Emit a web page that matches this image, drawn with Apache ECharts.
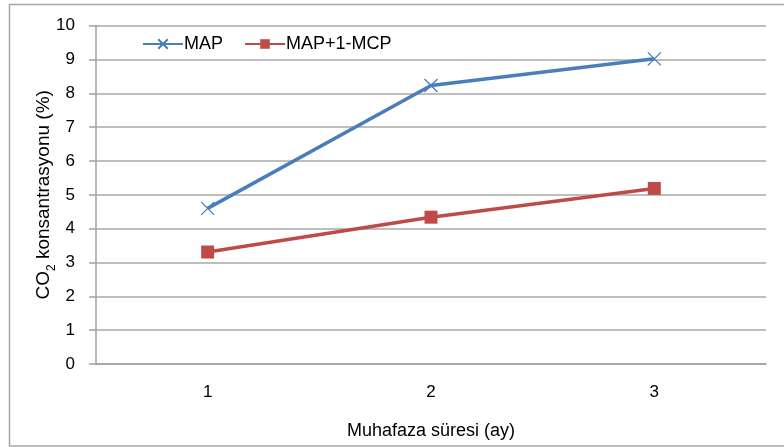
<!DOCTYPE html>
<html><head><meta charset="utf-8">
<script src="https://cdn.jsdelivr.net/npm/echarts@6/dist/echarts.min.js"></script>
<style>html,body{margin:0;padding:0;background:#fff}#c{width:784px;height:447px}</style>
</head><body><div id="c"></div>
<script>
const categories = ['1', '2', '3'];
const mapValues = [4.6, 8.23, 9.02];
const mcpValues = [3.31, 4.34, 5.19];
const seriesNames = ['MAP', 'MAP+1-MCP'];
const xAxisTitle = 'Muhafaza süresi (ay)';

const chart = echarts.init(document.getElementById('c'), null, {renderer: 'canvas'});
const font = 'Liberation Sans, Arial, sans-serif';
chart.setOption({
  animation: false,
  graphic: [{type: 'rect', shape: {x: 9.5, y: 4.5, width: 790, height: 441.5}, style: {fill: 'none', stroke: '#a6a6a6', lineWidth: 1.5}, silent: true}],
  grid: {left: 96, right: 18, top: 25.7, bottom: 83, containLabel: false, outerBoundsMode: 'none'},
  legend: {
    left: 142, top: 35, itemWidth: 40, itemHeight: 12, itemGap: 21, padding: 0,
    textStyle: {fontFamily: font, fontSize: 18, color: '#000', padding: [0, 0, 0, -4]},
    data: seriesNames
  },
  xAxis: {
    type: 'category', data: categories, boundaryGap: true,
    axisLine: {lineStyle: {color: '#a0a0a0', width: 1.5}},
    axisTick: {show: false},
    axisLabel: {fontFamily: font, fontSize: 17, color: '#000', margin: 20},
    name: xAxisTitle, nameLocation: 'middle', nameGap: 58,
    nameTextStyle: {fontFamily: font, fontSize: 18, color: '#000'}
  },
  yAxis: {
    type: 'value', min: 0, max: 10, interval: 1,
    axisLine: {show: true, lineStyle: {color: '#a0a0a0', width: 1.5}},
    axisTick: {show: true, length: 7, lineStyle: {color: '#a0a0a0', width: 1.5}},
    splitLine: {lineStyle: {color: '#a8a8a8', width: 1.5}},
    axisLabel: {fontFamily: font, fontSize: 17, color: '#000', margin: 21},
    name: '{a|CO}{s|2}{a| konsantrasyonu (%)}', nameLocation: 'middle', nameGap: 43, nameRotate: 90,
    nameMoveOverlap: false,
    nameTextStyle: {rich: {a: {fontFamily: font, fontSize: 19, color: '#000'}, s: {fontFamily: font, fontSize: 12, color: '#000', verticalAlign: 'bottom', padding: [0, 0, -5, 0]}}}
  },
  series: [
    {
      name: seriesNames[0], type: 'line', data: mapValues,
      symbol: 'path://M0,0L10,10M10,0L0,10', symbolSize: 13,
      lineStyle: {color: '#4a7ebb', width: 3.5},
      itemStyle: {color: 'rgba(0,0,0,0)', borderColor: '#4a7ebb', borderWidth: 1.3}
    },
    {
      name: seriesNames[1], type: 'line', data: mcpValues,
      symbol: 'rect', symbolSize: 13,
      lineStyle: {color: '#be4b48', width: 3.5},
      itemStyle: {color: '#be4b48'}
    }
  ]
});
</script></body></html>
